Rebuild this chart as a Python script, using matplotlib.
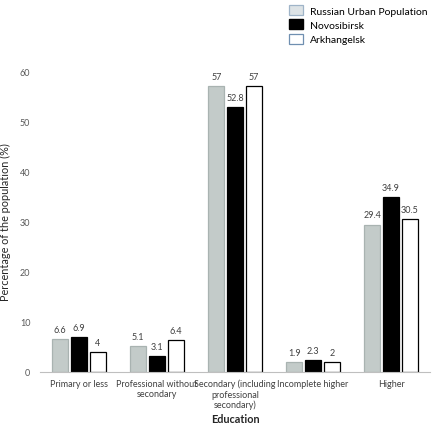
import numpy as np
import matplotlib
matplotlib.use("Agg")
import matplotlib.pyplot as plt
from matplotlib.patches import Patch

plt.rcParams["font.family"] = ["Lato", "DejaVu Sans"]

categories = ["Primary or less", "Professional without\nsecondary",
              "Secondary (including\nprofessional\nsecondary)", "Incomplete higher", "Higher"]
russia = [6.6, 5.1, 57, 1.9, 29.4]
novosibirsk = [6.9, 3.1, 52.8, 2.3, 34.9]
arkhangelsk = [4, 6.4, 57, 2, 30.5]
series_names = ["Russian Urban Population", "Novosibirsk", "Arkhangelsk"]

fig = plt.figure(figsize=(4.36, 4.27), dpi=100)
ax = fig.add_axes([40 / 436, 54 / 427, 390 / 436, 301 / 427])

x = np.arange(len(categories))
w = 0.2
step = 0.24
styles = [
    dict(color="#c3cbc9", edgecolor="#a9b3b1"),
    dict(color="#000000", edgecolor="#000000"),
    dict(color="#ffffff", edgecolor="#000000"),
]
for i, (vals, st) in enumerate(zip([russia, novosibirsk, arkhangelsk], styles)):
    pos = x + (i - 1) * step
    ax.bar(pos, vals, width=w, linewidth=0.9, **st)
    for p, v in zip(pos, vals):
        ax.text(p, v + 1.0, f"{v:g}", ha="center", va="bottom", fontsize=6.5, color="#404040")

ax.set_xlim(-0.5, len(categories) - 0.5)
ax.set_ylim(0, 60)
ax.set_yticks(range(0, 61, 10))
ax.set_xticks(x)
ax.set_xticklabels(categories, fontsize=6.5, color="#404040", linespacing=1.15)
ax.tick_params(axis="y", labelsize=6.5, labelcolor="#595959", length=0, pad=7)
ax.tick_params(axis="x", length=0, pad=5)
for s in ["top", "right", "left"]:
    ax.spines[s].set_visible(False)
ax.spines["bottom"].set_color("#bfbfbf")
ax.set_xlabel("Education", fontsize=7.8, fontweight="bold", color="#262626", labelpad=3)
ax.set_ylabel("Percentage of the population (%)", fontsize=7.8, color="#262626")
ax.yaxis.set_label_coords(-0.075, 0.5)

handles = [Patch(facecolor="#dde3e6", edgecolor="#9fb4c8", linewidth=0.9),
           Patch(facecolor="#000000", edgecolor="#000000"),
           Patch(facecolor="#ffffff", edgecolor="#6f8fb0", linewidth=0.9)]
fig.legend(handles, series_names, loc="upper left", bbox_to_anchor=(283 / 436, 1.0),
           frameon=False, fontsize=7.5, handlelength=1.3, handleheight=1.1,
           handletextpad=0.7, labelspacing=0.35, borderaxespad=0.2)

fig.savefig("out.png", dpi=100)
